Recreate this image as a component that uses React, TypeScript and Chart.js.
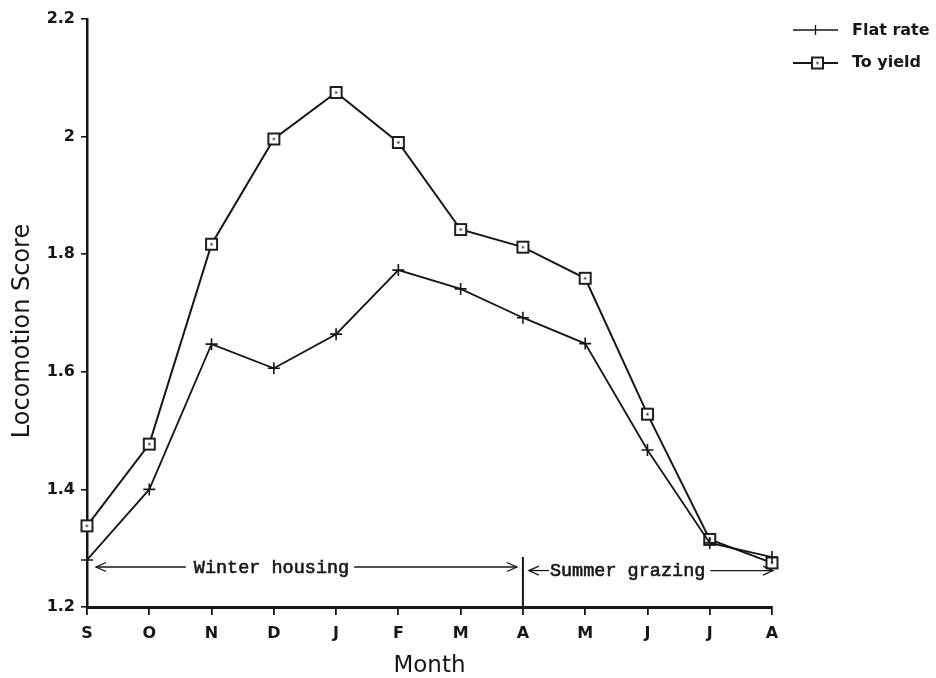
import { useEffect, useRef } from "react";
import { Chart, registerables } from "chart.js";
Chart.register(...registerables);

const months = ["S", "O", "N", "D", "J", "F", "M", "A", "M", "J", "J", "A"];
const flatRate = [1.28, 1.4, 1.647, 1.606, 1.664, 1.773, 1.741, 1.692, 1.648, 1.467, 1.309, 1.285];
const toYield = [1.338, 1.477, 1.817, 1.996, 2.075, 1.99, 1.842, 1.812, 1.759, 1.528, 1.315, 1.275];
const seriesNames = ["Flat rate", "To yield"];
const yMin = 1.2;
const yMax = 2.2;
const yStep = 0.2;
const periodLabels = ["Winter housing", "Summer grazing"];
const periodStart = [0, 7];
const periodEnd = [7, 11];
const periodLevel = [1.268, 1.262];
const dividerIndex = 7;
const dividerTop = 1.285;
const xTitle = "Month";
const yTitle = "Locomotion Score";

const INK = "#161616";

function makeSquare(): HTMLCanvasElement {
  const c = document.createElement("canvas");
  c.width = 15;
  c.height = 15;
  const g = c.getContext("2d")!;
  g.fillStyle = "#fff";
  g.fillRect(2, 2, 11, 11);
  g.strokeStyle = INK;
  g.lineWidth = 1.9;
  g.strokeRect(2, 2, 11, 11);
  g.fillStyle = INK;
  g.fillRect(6.5, 6.5, 2, 2);
  return c;
}

function head(ctx: CanvasRenderingContext2D, tipX: number, y: number, dir: number) {
  ctx.beginPath();
  ctx.moveTo(tipX - dir * 10, y - 4.5);
  ctx.lineTo(tipX, y);
  ctx.lineTo(tipX - dir * 10, y + 4.5);
  ctx.stroke();
}

function hline(ctx: CanvasRenderingContext2D, a: number, b: number, y: number) {
  ctx.beginPath();
  ctx.moveTo(a, y);
  ctx.lineTo(b, y);
  ctx.stroke();
}

export default function App() {
  const ref = useRef<HTMLCanvasElement>(null);
  useEffect(() => {
    if (!ref.current) return;
    const square = makeSquare();

    const extras = {
      id: "extras",
      afterDraw(chart: any) {
        const ctx: CanvasRenderingContext2D = chart.ctx;
        const x = chart.scales.x;
        const y = chart.scales.y;
        ctx.save();
        ctx.strokeStyle = INK;
        ctx.fillStyle = INK;

        // divider
        const xd = x.getPixelForValue(dividerIndex);
        ctx.lineWidth = 2;
        ctx.beginPath();
        ctx.moveTo(xd, y.getPixelForValue(dividerTop));
        ctx.lineTo(xd, y.getPixelForValue(yMin));
        ctx.stroke();

        // period arrows
        ctx.font = '18.5px "Liberation Mono"';
        ctx.textBaseline = "middle";
        ctx.textAlign = "left";
        for (let i = 0; i < periodLabels.length; i++) {
          const xa = x.getPixelForValue(periodStart[i]);
          const xb = x.getPixelForValue(periodEnd[i]);
          const yy = y.getPixelForValue(periodLevel[i]);
          const leftTip = xa + (i === 0 ? 9 : 6);
          const rightTip = xb + (i === 0 ? -6 : 1);
          const textX = i === 0 ? xa + 0.245 * (xb - xa) : xa + 27;
          const w = ctx.measureText(periodLabels[i]).width;
          ctx.lineWidth = 1.3;
          hline(ctx, leftTip, textX - (i === 0 ? 8 : 1), yy);
          head(ctx, leftTip, yy, -1);
          hline(ctx, textX + w + 5, rightTip, yy);
          head(ctx, rightTip, yy, 1);
          ctx.lineWidth = 0.6;
          ctx.fillText(periodLabels[i], textX, yy + 1);
          ctx.strokeText(periodLabels[i], textX, yy + 1);
        }

        // y title
        ctx.save();
        ctx.font = '24px "DejaVu Sans"';
        ctx.textAlign = "center";
        ctx.textBaseline = "middle";
        ctx.translate(23, 331);
        ctx.rotate(-Math.PI / 2);
        ctx.fillText(yTitle, 0, 0);
        ctx.restore();

        // legend
        const lx0 = chart.width - 143;
        const lx1 = chart.width - 98;
        const ly = [30, 63];
        ctx.font = 'bold 16px "DejaVu Sans"';
        ctx.textAlign = "left";
        ctx.textBaseline = "middle";
        ctx.lineWidth = 1.3;
        hline(ctx, lx0, lx1, ly[0]);
        const cx = (lx0 + lx1) / 2;
        ctx.beginPath();
        ctx.moveTo(cx, ly[0] - 5);
        ctx.lineTo(cx, ly[0] + 5);
        ctx.stroke();
        ctx.fillText(seriesNames[0], chart.width - 84, ly[0] + 1);
        ctx.lineWidth = 2;
        hline(ctx, lx0, lx1, ly[1]);
        ctx.drawImage(square, cx - 7.5 + 2, ly[1] - 7.5);
        ctx.fillText(seriesNames[1], chart.width - 84, ly[1]);
        ctx.restore();
      },
    };

    const tickFont = { family: "DejaVu Sans", weight: "bold" as const, size: 16 };
    const chart = new Chart(ref.current, {
      type: "line",
      data: {
        labels: months,
        datasets: [
          {
            label: seriesNames[0],
            data: flatRate,
            borderColor: INK,
            backgroundColor: INK,
            borderWidth: 1.8,
            pointStyle: "cross",
            pointRadius: 6,
            pointBorderWidth: 1.6,
            pointBorderColor: INK,
            tension: 0,
            clip: false as any,
          },
          {
            label: seriesNames[1],
            data: toYield,
            borderColor: INK,
            backgroundColor: "#fff",
            borderWidth: 2,
            pointStyle: square as any,
            pointRadius: 6,
            tension: 0,
            clip: false as any,
          },
        ],
      },
      options: {
        responsive: false,
        animation: false,
        devicePixelRatio: 1,
        layout: { padding: { top: 19, right: 164, left: 0, bottom: 0 } },
        plugins: { legend: { display: false }, tooltip: { enabled: false } },
        scales: {
          x: {
            type: "category",
            offset: false,
            afterFit: (s: any) => {
              s.height = 71;
            },
            grid: {
              display: true,
              drawOnChartArea: false,
              drawTicks: true,
              tickLength: 8,
              color: INK,
              lineWidth: 1.8,
            },
            border: { display: true, color: INK, width: 3 },
            ticks: { color: INK, font: tickFont, padding: 9, maxRotation: 0, autoSkip: false },
            title: {
              display: true,
              text: xTitle,
              color: INK,
              font: { family: "DejaVu Sans", size: 23, lineHeight: 1 },
              padding: { top: 0, bottom: 0 },
            },
          },
          y: {
            min: yMin,
            max: yMax,
            afterFit: (s: any) => {
              s.width = 87;
            },
            grid: {
              display: true,
              drawOnChartArea: false,
              drawTicks: true,
              tickLength: 6,
              color: INK,
              lineWidth: 1.6,
            },
            border: { display: true, color: INK, width: 2.5 },
            ticks: {
              stepSize: yStep,
              color: INK,
              font: tickFont,
              padding: 6,
              callback: (v: any) => String(+Number(v).toFixed(1)),
            },
          },
        },
      },
      plugins: [extras],
    });
    return () => chart.destroy();
  }, []);

  return (
    <div style={{ position: "fixed", left: 0, top: 0, width: 936, height: 678, background: "#fff" }}>
      <canvas ref={ref} width={936} height={678} />
    </div>
  );
}
